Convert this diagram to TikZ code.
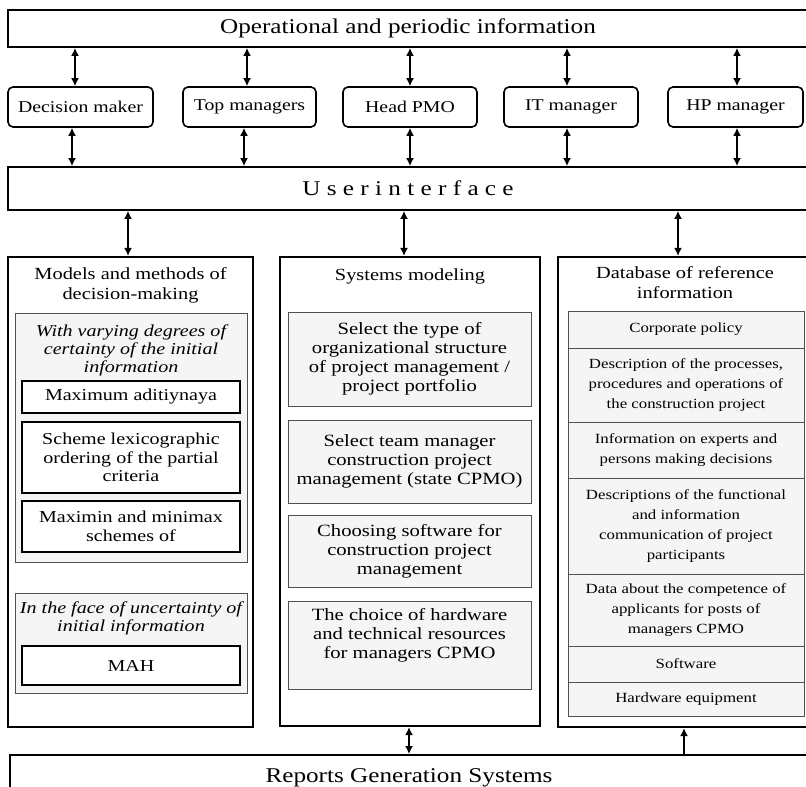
\documentclass[tikz,border=0pt]{standalone}
\usepackage{fontspec}
\setmainfont{Liberation Serif}[FakeStretch=1.2]
\usepackage{xcolor}
\usepackage{tikz}
\usetikzlibrary{arrows.meta,shapes}
\definecolor{panelgray}{HTML}{F5F5F5}
\definecolor{edgegray}{HTML}{505050}

\begin{document}
\begin{tikzpicture}[x=1pt,y=-1pt]
    \useasboundingbox (0,0) rectangle (806,787);
    \clip (0,0) rectangle (806,787);
    \tikzstyle{bandbox}=[rectangle, draw, line width=1.8pt, fill=white, font=\fontsize{21}{24}\selectfont]
    \tikzstyle{rolebox}=[rectangle, rounded corners=5pt, draw, line width=1.6pt,
    minimum height=40pt, font=\fontsize{16.5}{19}\selectfont]
    \tikzstyle{colbox}=[rectangle, draw, line width=2.2pt, fill=white]
    \tikzstyle{coltitle}=[align=center, font=\fontsize{17}{20}\selectfont]
    \tikzstyle{groupbox}=[rectangle, draw=edgegray, line width=1pt, fill=panelgray, minimum width=232pt]
    \tikzstyle{grouptitle}=[align=center, inner xsep=1pt, font=\itshape\fontsize{16.7}{18}\selectfont]
    \tikzstyle{methodbox}=[rectangle, draw, line width=1.1pt, fill=white, minimum width=218pt,
    align=center, font=\fontsize{16.7}{18.5}\selectfont]
    \tikzstyle{taskbox}=[rectangle, draw=edgegray, line width=1pt, fill=panelgray, minimum width=243pt,
    align=center, font=\fontsize{17.2}{19}\selectfont]
    \tikzstyle{recordbox}=[rectangle, draw=edgegray, line width=1pt, fill=panelgray, minimum width=236pt,
    align=center, font=\fontsize{14}{20}\selectfont]
    \tikzstyle{dblarrow}=[line width=2.3pt, {Latex[length=8pt,width=8pt]}-{Latex[length=8pt,width=8pt]}]
    \tikzstyle{uparrow}=[line width=2.3pt, -{Latex[length=8pt,width=8pt]}]

    % top band and roles
    \node[bandbox, minimum width=800pt, minimum height=37pt](opinfo) at (408,28.5){Operational and periodic information};
    \node[rolebox, minimum width=145pt](dm) at (80.5,107){Decision maker};
    \node[rolebox, minimum width=133pt](topm) at (249.5,107){Top managers};
    \node[rolebox, minimum width=134pt](hpmo) at (410,107){Head PMO};
    \node[rolebox, minimum width=134pt](itm) at (571,107){IT manager};
    \node[rolebox, minimum width=135pt](hpm) at (735.5,107){HP manager};
    \node[bandbox, minimum width=800pt, minimum height=43pt](ui) at (408,188.5){U s e r i n t e r f a c e};

    \foreach \who/\up/\down in {dm/-5.5/-8.5, topm/-2.5/-5.5, hpmo/0/0, itm/-4/-4, hpm/1.5/1.5}{
        \draw[dblarrow] ([xshift=\up pt]\who.north) -- ([xshift=\up pt]\who.north |- opinfo.south);
        \draw[dblarrow] ([xshift=\down pt]\who.south) -- ([xshift=\down pt]\who.south |- ui.north);
    }

    % left column
    \node[colbox, minimum width=245pt, minimum height=470pt](models) at (130.5,492){};
    \node[coltitle](modelst) at (130.5,285){Models and methods of\\decision-making};
    \node[groupbox, minimum height=249pt](certain) at (131,437.5){};
    \node[grouptitle](certaint) at (131,350){With varying degrees of\\certainty of the initial\\information};
    \node[methodbox, minimum height=32pt](maxadd) at (131,397){Maximum aditiynaya};
    \node[methodbox, minimum height=71pt](lexi) at (131,457.5){Scheme lexicographic\\ordering of the partial\\criteria};
    \node[methodbox, minimum height=51pt](minimax) at (131,526.5){Maximin and minimax\\schemes of};
    \node[groupbox, minimum height=100pt](uncert) at (131,643){};
    \node[grouptitle](uncertt) at (131,618){In the face of uncertainty of\\initial information};
    \node[methodbox, minimum height=39pt](mah) at (131,665.5){MAH};

    % middle column
    \node[colbox, minimum width=260pt, minimum height=469pt](sysmod) at (410,491.5){};
    \node[coltitle](sysmodt) at (410,276){Systems modeling};
    \node[taskbox, minimum height=94pt](orgtype) at (409.5,359){Select the type of\\organizational structure\\of project management /\\project portfolio};
    \node[taskbox, minimum height=83pt](team) at (409.5,461.5){Select team manager\\construction project\\management (state CPMO)};
    \node[taskbox, minimum height=72pt](soft) at (409.5,551){Choosing software for\\construction project\\management};
    \node[taskbox, minimum height=88pt](hard) at (409.5,645){};
    \node[anchor=north, align=center, font=\fontsize{17.2}{19}\selectfont](hardt) at ([yshift=-4pt]hard.north){The choice of hardware\\and technical resources\\for managers CPMO};

    % right column
    \node[colbox, minimum width=254pt, minimum height=470pt](refdb) at (685,492){};
    \node[coltitle](refdbt) at (685,283){Database of reference\\information};
    \node[recordbox, minimum height=37pt](policy) at (686,329.5){Corporate policy};
    \node[recordbox, minimum height=74pt](procs) at (686,385){Description of the processes,\\procedures and operations of\\the construction project};
    \node[recordbox, minimum height=56pt](experts) at (686,450){Information on experts and\\persons making decisions};
    \node[recordbox, minimum height=96pt](links) at (686,526){Descriptions of the functional\\and information\\communication of project\\participants};
    \node[recordbox, minimum height=72pt](compet) at (686,610){Data about the competence of\\applicants for posts of\\managers CPMO};
    \node[recordbox, minimum height=36pt](softw) at (686,664){Software};
    \node[recordbox, minimum height=34pt](hardw) at (686,699){Hardware equipment};

    \draw[dblarrow] ([xshift=-2.5pt]models.north) -- ([xshift=-2.5pt]models.north |- ui.south);
    \draw[dblarrow] ([xshift=-6pt]sysmod.north) -- ([xshift=-6pt]sysmod.north |- ui.south);
    \draw[dblarrow] ([xshift=-7pt]refdb.north) -- ([xshift=-7pt]refdb.north |- ui.south);

    % reports
    \node[bandbox, minimum width=798pt, minimum height=45pt](reports) at (409,777.5){Reports Generation Systems};
    \draw[dblarrow] ([xshift=-1pt]sysmod.south) -- ([xshift=-1pt]sysmod.south |- reports.north);
    \draw[uparrow] ([xshift=-1pt]refdb.south |- reports.north) -- ([xshift=-1pt]refdb.south);
\end{tikzpicture}
\end{document}
